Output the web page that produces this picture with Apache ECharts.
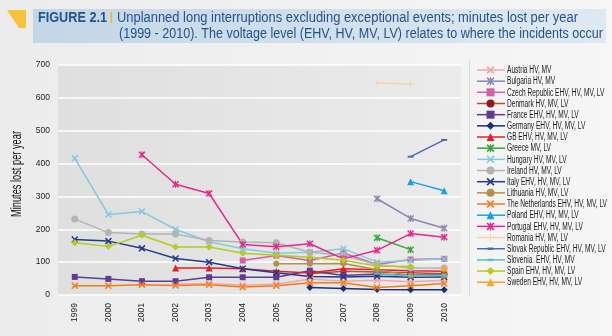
<!DOCTYPE html>
<html><head><meta charset="utf-8">
<script src="https://cdn.jsdelivr.net/npm/echarts@6/dist/echarts.min.js"></script>
<style>html,body{margin:0;padding:0;}body{width:612px;height:336px;background:linear-gradient(90deg,#ececec,#f6f6f6);overflow:hidden;}#c{width:612px;height:336px;}</style>
</head><body><div id="c"></div>
<script>
var years = ['1999','2000','2001','2002','2003','2004','2005','2006','2007','2008','2009','2010'];
var yTicks = [0,100,200,300,400,500,600,700];
var N = null;
var austria     = [N,N,N,33,35,30,33,49,42,45,40,45];
var bulgaria    = [N,N,N,N,N,N,N,N,N,293,233,203];
var czech       = [N,N,N,N,N,105,120,105,128,93,108,110];
var denmark     = [N,N,N,N,N,N,N,65,72,70,68,65];
var france      = [55,49,42,42,54,54,54,74,59,64,60,62];
var germany     = [N,N,N,N,N,N,N,23,20,17,16,16];
var gb          = [N,N,N,82,82,80,72,67,80,77,74,72];
var greece      = [N,N,N,N,N,N,N,N,N,174,138,N];
var hungary     = [416,245,254,200,162,141,127,130,141,100,105,110];
var ireland     = [231,190,186,186,166,161,159,130,121,92,82,82];
var italy       = [169,164,142,111,100,80,68,56,55,57,54,55];
var lithuania   = [N,N,N,N,N,N,95,95,96,77,59,59];
var netherlands = [28,28,31,29,31,24,28,37,37,23,28,35];
var poland      = [N,N,N,N,N,N,N,N,N,N,345,317];
var portugal    = [N,N,427,337,309,154,147,156,110,136,187,176];
var romania     = [N,N,N,N,N,N,N,N,N,645,642,N];
var slovak      = [N,N,N,N,N,N,N,N,N,N,421,472];
var slovenia    = [N,N,N,N,N,N,N,N,N,65,58,60];
var spain       = [159,148,182,146,146,127,121,115,106,88,87,N];
var sweden      = [N,N,N,N,N,N,N,N,N,N,N,82];

var titleLine1 = 'Unplanned long interruptions excluding exceptional events; minutes lost per year';
var titleLine2 = '(1999 - 2010). The voltage level (EHV, HV, MV, LV) relates to where the incidents occur';
var yName = 'Minutes lost per year';

var XP = 'M0,1.5L1.5,0L5,3.5L8.5,0L10,1.5L6.5,5L10,8.5L8.5,10L5,6.5L1.5,10L0,8.5L3.5,5Z';
var STARP = 'M0,1.5L1.5,0L4.2,2.7L4.2,0L5.8,0L5.8,2.7L8.5,0L10,1.5L6.5,5L10,8.5L8.5,10L5.8,7.3L5.8,10L4.2,10L4.2,7.3L1.5,10L0,8.5L3.5,5Z';
var PLUSP = 'M4.4,0L5.6,0L5.6,4.4L10,4.4L10,5.6L5.6,5.6L5.6,10L4.4,10L4.4,5.6L0,5.6L0,4.4L4.4,4.4Z';
var TRIP = 'M5,0L10,10L0,10Z';
var DIAP = 'M5,0L10,5L5,10L0,5Z';
var SQP = 'M0,0L10,0L10,10L0,10Z';
function sym(k){ return {x:'path://'+XP, star:'path://'+STARP, plus:'path://'+PLUSP, rect:'rect', circle:'circle', triangle:'triangle', diamond:'diamond', dash:'rect'}[k]; }
function pathPoints(p, cx, cy, s){
  return p.replace(/[MZ]/g,'').split('L').map(function(pt){
    var a = pt.split(',');
    return [cx - s/2 + parseFloat(a[0]) * s / 10, cy - s/2 + parseFloat(a[1]) * s / 10];
  });
}

var defs = [
 ['Austria HV, MV', austria, '#f3a7a4', 'x', 7],
 ['Bulgaria HV, MV', bulgaria, '#8a85b3', 'star', 7],
 ['Czech Republic EHV, HV, MV, LV', czech, '#d35fa6', 'rect', 6],
 ['Denmark HV, MV, LV', denmark, '#b5532b', 'circle', 6, '#8e1b1b'],
 ['France EHV, HV, MV, LV', france, '#5b3e92', 'rect', 6],
 ['Germany EHV, HV, MV, LV', germany, '#1b2f78', 'diamond', 7],
 ['GB EHV, HV, MV, LV', gb, '#e3202b', 'triangle', 7],
 ['Greece MV, LV', greece, '#3aa63a', 'star', 7],
 ['Hungary HV, MV, LV', hungary, '#83cbdc', 'x', 7],
 ['Ireland HV, MV, LV', ireland, '#b3b3b3', 'circle', 7],
 ['Italy EHV, HV, MV, LV', italy, '#1f3b8c', 'x', 7],
 ['Lithuania HV, MV, LV', lithuania, '#b39149', 'circle', 6],
 ['The Netherlands EHV, HV, MV, LV', netherlands, '#f07d1c', 'x', 7],
 ['Poland EHV, HV, MV, LV', poland, '#19a3df', 'triangle', 7],
 ['Portugal EHV, HV, MV, LV', portugal, '#e6288a', 'star', 7],
 ['Romania HV, MV, LV', romania, '#f7d3a6', 'plus', 7],
 ['Slovak Republic EHV, HV, MV, LV', slovak, '#4a6bb6', 'dash', [6,2]],
 ['Slovenia  EHV, HV, MV', slovenia, '#5cbfc5', 'dash', [6,2]],
 ['Spain EHV, HV, MV, LV', spain, '#b4cc1b', 'diamond', 7],
 ['Sweden EHV, HV, MV, LV', sweden, '#f6a623', 'triangle', 7]
];

var series = defs.map(function(d){
  return {
    name: d[0], type: 'line', data: d[1], symbol: sym(d[3]), symbolSize: d[4],
    showAllSymbol: true, connectNulls: false,
    lineStyle: {color: d[2], width: 1.5},
    itemStyle: {color: d[5] || d[2], borderWidth: 0},
    emphasis: {disabled: true}
  };
});

var FONT = "'Liberation Sans','Arimo',sans-serif";
var mctx = document.createElement('canvas').getContext('2d');
function tw(text, font){ mctx.font = font; return mctx.measureText(text).width; }

var F_T = "14px " + FONT, F_TB = "bold 14px " + FONT;
var sT1 = 461 / tw(titleLine1, F_T);
var sT2 = 484 / tw(titleLine2, F_T);
var sFig = 69 / tw('FIGURE 2.1', F_TB);
var F_Y = "14px " + FONT;
var sY = 86 / tw(yName, F_Y);
var F_L = "10px " + FONT;
var sL = 100 / tw('The Netherlands EHV, HV, MV, LV', F_L);

var graphics = [
  {type: 'rect', shape: {x: 33, y: 9, width: 573, height: 34}, silent: true,
   style: {fill: new echarts.graphic.LinearGradient(0,0,1,0,[{offset:0,color:'#c3d6e7'},{offset:1,color:'#dfe9f2'}])}},
  {type: 'polygon', shape: {points: [[7,10],[26,10],[26,28],[19,28]]}, style: {fill: '#f7c33c'}, silent: true},
  {type: 'text', x: 38, y: 18, scaleX: sFig, style: {text: 'FIGURE 2.1', font: F_TB, fill: '#24548a', verticalAlign: 'middle'}},
  {type: 'rect', shape: {x: 110.5, y: 12, width: 1.6, height: 11}, style: {fill: '#f2b51d'}, silent: true},
  {type: 'text', x: 117, y: 18, scaleX: sT1, style: {text: titleLine1, font: F_T, fill: '#24548a', verticalAlign: 'middle'}},
  {type: 'text', x: 119, y: 34, scaleX: sT2, style: {text: titleLine2, font: F_T, fill: '#24548a', verticalAlign: 'middle'}},
  {type: 'text', x: 17, y: 174, rotation: Math.PI/2, scaleX: sY, style: {text: yName, font: F_Y, fill: '#111', align: 'center', verticalAlign: 'middle'}},
  {type: 'line', shape: {x1: 469.5, y1: 60, x2: 469.5, y2: 296}, style: {stroke: '#d8d8d8', lineWidth: 1}, silent: true}
];

var iconPath = {x: XP, star: STARP, plus: PLUSP, rect: SQP, triangle: TRIP, diamond: DIAP};
defs.forEach(function(d, i){
  var yc = 70 + i * 11.17;
  graphics.push({type: 'line', shape: {x1: 477, y1: yc, x2: 505, y2: yc}, style: {stroke: d[2], lineWidth: 1.5}, silent: true});
  var fill = d[5] || d[2];
  var s = 8;
  if (d[3] === 'circle') {
    graphics.push({type: 'circle', shape: {cx: 490.5, cy: yc, r: 4}, style: {fill: fill}, silent: true});
  } else if (d[3] === 'dash') {
    graphics.push({type: 'rect', shape: {x: 487.5, y: yc - 1.2, width: 6, height: 2.4}, style: {fill: fill}, silent: true});
  } else {
    graphics.push({type: 'polygon', shape: {points: pathPoints(iconPath[d[3]], 490.5, yc, s)}, style: {fill: fill}, silent: true});
  }
  graphics.push({type: 'text', x: 507, y: yc + 0.5, scaleX: sL, silent: true,
    style: {text: d[0], font: F_L, fill: '#1a1a1a', verticalAlign: 'middle'}});
});

var chart = echarts.init(document.getElementById('c'), null, {renderer: 'canvas'});
chart.setOption({
  animation: false,
  backgroundColor: 'transparent',
  textStyle: {fontFamily: FONT},
  graphic: graphics,
  grid: {left: 58, right: 151, top: 65, bottom: 41, show: true, borderWidth: 0,
    backgroundColor: new echarts.graphic.LinearGradient(0,0,1,0,[{offset:0,color:'#dfdfdf'},{offset:1,color:'#ebebeb'}])},
  legend: {show: false, data: defs.map(function(d){return d[0];})},
  xAxis: {
    type: 'category', data: years, boundaryGap: true,
    axisLine: {show: false}, axisTick: {show: false},
    axisLabel: {rotate: 90, fontSize: 8.5, color: '#222', margin: 8, fontFamily: FONT}
  },
  yAxis: {
    type: 'value', min: 0, max: 700, interval: 100,
    axisLine: {show: false}, axisTick: {show: false},
    axisLabel: {fontSize: 8.5, color: '#222', margin: 8, fontFamily: FONT,
      formatter: function(v){ return yTicks.indexOf(v) >= 0 ? String(v) : ''; }},
    splitLine: {lineStyle: {color: '#ffffff', width: 1.5}}
  },
  series: series
});
</script></body></html>
